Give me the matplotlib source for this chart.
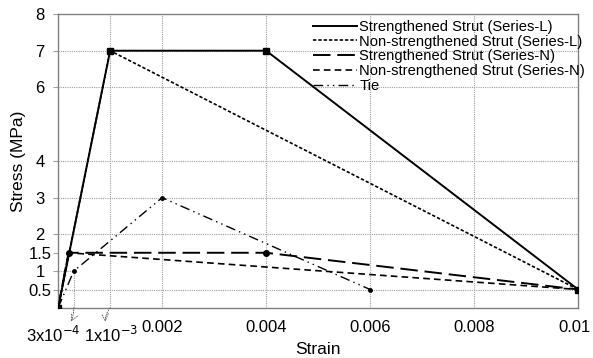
import numpy as np
import matplotlib.pyplot as plt
import matplotlib.transforms as mtransforms
from matplotlib.lines import Line2D

plt.rcParams['font.family'] = ['Liberation Sans', 'DejaVu Sans']

# data
strain_sl = [0, 0.001, 0.004, 0.01]
stress_sl = [0, 7, 7, 0.5]
strain_nl = [0, 0.001, 0.01]
stress_nl = [0, 7, 0.5]
strain_sn = [0, 0.0002, 0.004, 0.01]
stress_sn = [0, 1.5, 1.5, 0.5]
strain_nn = [0, 0.0002, 0.01]
stress_nn = [0, 1.5, 0.5]
strain_tie = [0, 0.0003, 0.002, 0.006]
stress_tie = [0, 1, 3, 0.5]

xticks = [0.002, 0.004, 0.006, 0.008, 0.01]
xlabels = ['0.002', '0.004', '0.006', '0.008', '0.01']
yticks = [0.5, 1, 1.5, 2, 3, 4, 6, 7, 8]
ylabels = ['0.5', '1', '1.5', '2', '3', '4', '6', '7', '8']
grid_y = [0.5, 2, 3, 4, 6, 7]
grid_x = [0.001, 0.002, 0.004, 0.006, 0.008]

fig = plt.figure(figsize=(5.93, 3.58), dpi=100)
ax = fig.add_axes([0.098, 0.14, 0.877, 0.821])

gcol = '#a0a0a0'
for g in grid_y:
    ax.axhline(g, color=gcol, lw=0.8, ls=(0, (1, 1)), zorder=0)
for g in grid_x:
    ax.axvline(g, color=gcol, lw=0.8, ls=(0, (1, 1)), zorder=0)
# small guide box at the 3x10^-4 point
ax.plot([0, 0.0003, 0.0003], [1, 1, 0], color=gcol, lw=0.8, ls=(0, (1, 1)), zorder=0)

st_nl = dict(color='black', lw=1.2, ls=(0, (2, 1.2)))
st_sn = dict(color='black', lw=1.4, ls=(0, (9, 3.5)))
st_nn = dict(color='black', lw=1.2, ls=(0, (4, 2.5)))
st_tie = dict(color='black', lw=1.0, ls=(0, (7, 3, 1, 3, 1, 3)))
st_sl = dict(color='black', lw=1.4)

ax.plot(strain_nl, stress_nl, zorder=2, **st_nl)
ax.plot(strain_sn, stress_sn, marker='o', ms=4, markevery=[1, 2], zorder=2, **st_sn)
ax.plot(strain_nn, stress_nn, zorder=2, **st_nn)
ax.plot(strain_tie, stress_tie, marker='o', ms=2.5, markevery=[1, 2, 3], zorder=2, **st_tie)
ax.plot(strain_sl, stress_sl, marker='s', ms=4.5, zorder=3, **st_sl)

ax.set_xlim(0, 0.01)
ax.set_ylim(0, 8)
ax.set_xticks(xticks)
ax.set_xticklabels(xlabels)
ax.set_yticks(yticks)
ax.set_yticklabels(ylabels, ha='center')
ax.tick_params(axis='x', length=0, labelsize=12, pad=9)
ax.tick_params(axis='y', length=3.6, color=gcol, labelsize=12, pad=9.5)
last = ax.get_xticklabels()[-1]
last.set_transform(last.get_transform() + mtransforms.ScaledTranslation(-4 / 100, 0, fig.dpi_scale_trans))
for s in ax.spines.values():
    s.set_color('#808080')
    s.set_linewidth(1.0)

ax.set_xlabel('Strain', fontsize=12.5)
ax.xaxis.set_label_coords(0.5, -0.115)
ax.set_ylabel('Stress (MPa)', fontsize=12.5)
ax.yaxis.set_label_coords(-0.062, 0.5)

# annotated small strain labels
ax.annotate('3x10$^{-4}$', xy=(0.0003, 0), xytext=(-0.0001, -0.45),
            fontsize=12, ha='center', va='top', annotation_clip=False,
            arrowprops=dict(arrowstyle='<-', color='#606060', lw=0.7, ls=':',
                            connectionstyle='arc3,rad=0.4', shrinkA=0, shrinkB=0))
ax.annotate('1x10$^{-3}$', xy=(0.001, 0), xytext=(0.00102, -0.45),
            fontsize=12, ha='center', va='top', annotation_clip=False,
            arrowprops=dict(arrowstyle='<-', color='#606060', lw=0.7, ls=':',
                            connectionstyle='arc3,rad=-0.4', shrinkA=0, shrinkB=0))

names = ['Strengthened Strut (Series-L)', 'Non-strengthened Strut (Series-L)',
         'Strengthened Strut (Series-N)', 'Non-strengthened Strut (Series-N)', 'Tie']
handles = [Line2D([], [], **st) for st in (st_sl, st_nl, st_sn, st_nn, st_tie)]
ax.legend(handles, names, loc='upper right', bbox_to_anchor=(1.03, 1.01), frameon=False,
          fontsize=10.6, handlelength=3.0, handletextpad=0.15, labelspacing=0.05,
          borderaxespad=0.2)

fig.savefig('out.png', dpi=100)
